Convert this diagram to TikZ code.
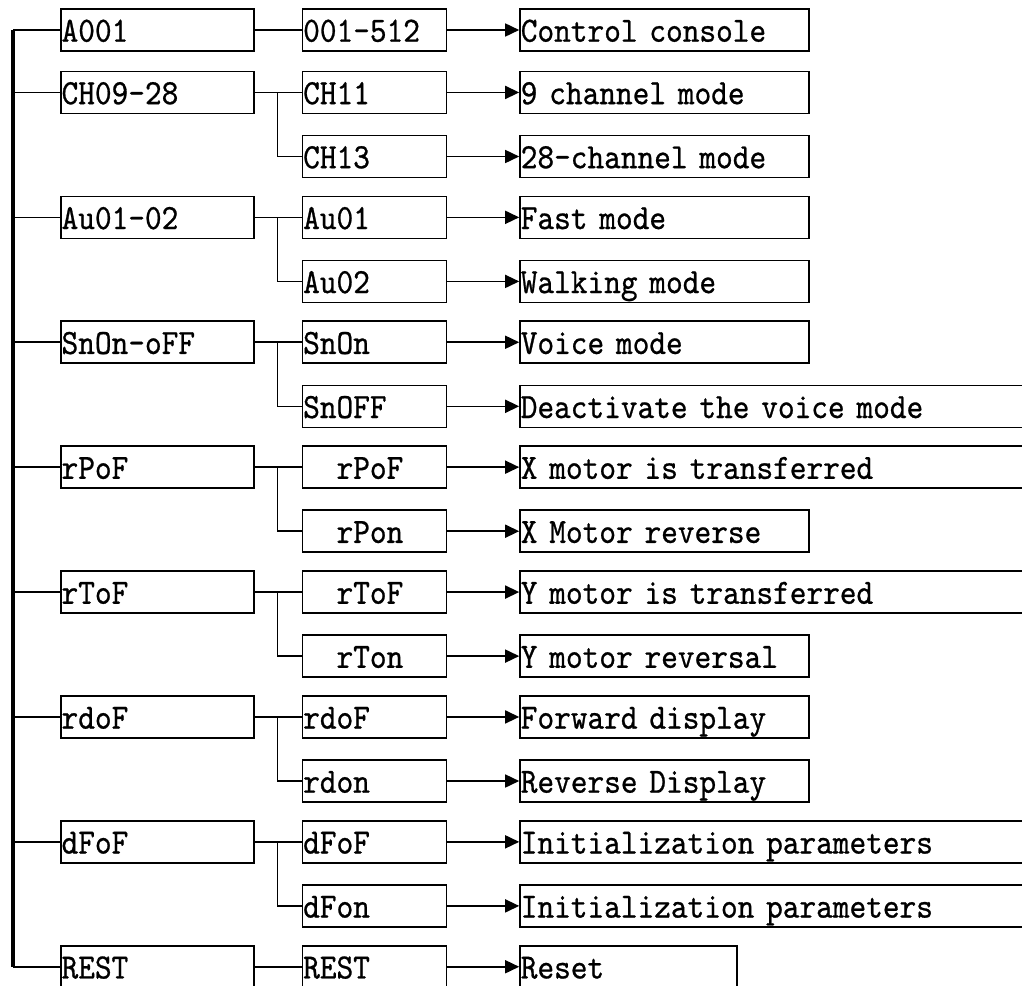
\documentclass[tikz,border=0pt]{standalone}
\usepackage{fontspec}
\usetikzlibrary{positioning,arrows.meta}
\newfontfamily\boxfont[FakeStretch=0.895, FakeBold=0.7]{lmmono10-regular.otf}

\begin{document}
\begin{tikzpicture}[x=1pt, y=-1pt, node distance={20.45pt and 47pt},
	box/.style = {draw, line width=1.6pt, anchor=west, minimum height=42pt, inner xsep=0.8pt, inner ysep=0pt, text height=29pt, text depth=5.6pt, align=left, font={\boxfont\fontsize{35.5pt}{40pt}\selectfont}},
	key/.style = {box, text width=191.4pt},
	sub/.style = {box, text width=142.4pt},
	res/.style = {box, text width=287.4pt},
	wide/.style = {box, text width=538pt},
	link/.style = {line width=1.6pt},
	arr/.style = {line width=1.6pt, -{Triangle[length=14pt, width=13pt]}}]
			\useasboundingbox (0,0) rectangle (1022,985);
			\clip (0,0) rectangle (1022,985);
			% left column
			\node[key] (k0) at (60,30) {A001};
			\node[key] (k1) at (60,92.45) {CH09-28};
			\node[key] (k3) at (60,217.35) {Au01-02};
			\node[key] (k5) at (60,342.25) {SnOn-oFF};
			\node[key] (k7) at (60,467.15) {rPoF};
			\node[key] (k9) at (60,592.05) {rToF};
			\node[key] (k11) at (60,716.95) {rdoF};
			\node[key] (k13) at (60,841.85) {dFoF};
			\node[key] (k15) at (60,966.75) {REST};
			% middle column
			\node[sub] (m0) [right=of k0] {001-512};
			\node[sub] (m1) [right=of k1] {CH11};
			\node[sub] (m2) [below=of m1] {CH13};
			\node[sub] (m3) [right=of k3] {Au01};
			\node[sub] (m4) [below=of m3] {Au02};
			\node[sub] (m5) [right=of k5] {SnOn};
			\node[sub] (m6) [below=of m5] {SnOFF};
			\node[sub] (m7) [right=of k7] {\phantom{xx}rPoF};
			\node[sub] (m8) [below=of m7] {\phantom{xx}rPon};
			\node[sub] (m9) [right=of k9] {\phantom{xx}rToF};
			\node[sub] (m10) [below=of m9] {\phantom{xx}rTon};
			\node[sub] (m11) [right=of k11] {rdoF};
			\node[sub] (m12) [below=of m11] {rdon};
			\node[sub] (m13) [right=of k13] {dFoF};
			\node[sub] (m14) [below=of m13] {dFon};
			\node[sub] (m15) [right=of k15] {REST};
			% right column
			\node[res] (r0) [right=72pt of m0] {Control console};
			\node[res] (r1) [right=72pt of m1] {9 channel mode};
			\node[res] (r2) [right=72pt of m2] {28-channel mode};
			\node[res] (r3) [right=72pt of m3] {Fast mode};
			\node[res] (r4) [right=72pt of m4] {Walking mode};
			\node[res] (r5) [right=72pt of m5] {Voice mode};
			\node[wide] (r6) [right=72pt of m6] {Deactivate the voice mode};
			\node[wide] (r7) [right=72pt of m7] {X motor is transferred};
			\node[res] (r8) [right=72pt of m8] {X Motor reverse};
			\node[wide] (r9) [right=72pt of m9] {Y motor is transferred};
			\node[res] (r10) [right=72pt of m10] {Y motor reversal};
			\node[res] (r11) [right=72pt of m11] {Forward display};
			\node[res] (r12) [right=72pt of m12] {Reverse Display};
			\node[wide] (r13) [right=72pt of m13] {Initialization parameters};
			\node[wide] (r14) [right=72pt of m14] {Initialization parameters};
			\node[box, text width=215.4pt] (r15) [right=72pt of m15] {Reset};
			% bar
			\coordinate (bartop) at (13,30);
			\coordinate (barbot) at (13,966.75);
			\draw[line width=4.5pt] (bartop) -- (barbot);
			\draw[link] (bartop) -- (k0);
			\draw[link] (k1.west -| bartop) -- (k1);
			\draw[link] (k3.west -| bartop) -- (k3);
			\draw[link] (k5.west -| bartop) -- (k5);
			\draw[link] (k7.west -| bartop) -- (k7);
			\draw[link] (k9.west -| bartop) -- (k9);
			\draw[link] (k11.west -| bartop) -- (k11);
			\draw[link] (k13.west -| bartop) -- (k13);
			\draw[link] (barbot) -- (k15);
			% branches
			\draw[link] (k0) -- (m0);
			\draw[link] (k1) -- (m1);
			\draw[link] ([xshift=23pt]k1.east) |- (m2);
			\draw[link] (k3) -- (m3);
			\draw[link] ([xshift=23pt]k3.east) |- (m4);
			\draw[link] (k5) -- (m5);
			\draw[link] ([xshift=23pt]k5.east) |- (m6);
			\draw[link] (k7) -- (m7);
			\draw[link] ([xshift=23pt]k7.east) |- (m8);
			\draw[link] (k9) -- (m9);
			\draw[link] ([xshift=23pt]k9.east) |- (m10);
			\draw[link] (k11) -- (m11);
			\draw[link] ([xshift=23pt]k11.east) |- (m12);
			\draw[link] (k13) -- (m13);
			\draw[link] ([xshift=23pt]k13.east) |- (m14);
			\draw[link] (k15) -- (m15);
			% arrows
			\draw[arr] (m0) -- (r0);
			\draw[arr] (m1) -- (r1);
			\draw[arr] (m2) -- (r2);
			\draw[arr] (m3) -- (r3);
			\draw[arr] (m4) -- (r4);
			\draw[arr] (m5) -- (r5);
			\draw[arr] (m6) -- (r6);
			\draw[arr] (m7) -- (r7);
			\draw[arr] (m8) -- (r8);
			\draw[arr] (m9) -- (r9);
			\draw[arr] (m10) -- (r10);
			\draw[arr] (m11) -- (r11);
			\draw[arr] (m12) -- (r12);
			\draw[arr] (m13) -- (r13);
			\draw[arr] (m14) -- (r14);
			\draw[arr] (m15) -- (r15);
		\end{tikzpicture}
\end{document}
